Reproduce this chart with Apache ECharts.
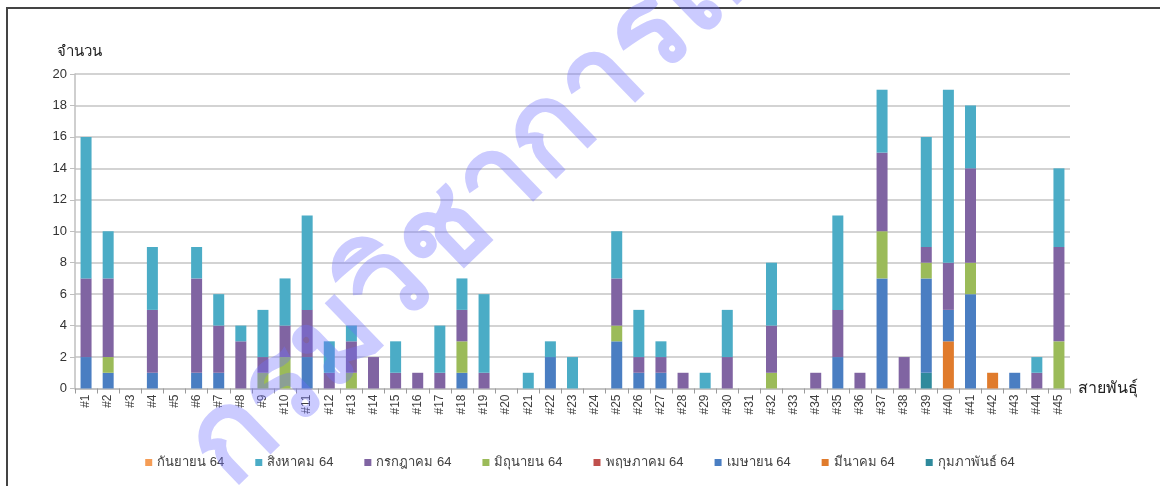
<!DOCTYPE html>
<html>
<head>
<meta charset="utf-8">
<script src="https://cdn.jsdelivr.net/npm/echarts@6/dist/echarts.min.js"></script>
<style>
  html, body { margin: 0; padding: 0; background: #fff; }
  #chart { width: 1160px; height: 486px; }
</style>
</head>
<body>
<div id="chart"></div>
<script>
// Lineage labels #1 .. #45
const categories = Array.from({ length: 45 }, (_, i) => '#' + (i + 1));

// Monthly counts per lineage (stacked bottom to top in this order)
const feb64 = [0,0,0,0,0, 0,0,0,0,0, 0,0,0,0,0, 0,0,0,0,0, 0,0,0,0,0, 0,0,0,0,0, 0,0,0,0,0, 0,0,0,1,0, 0,0,0,0,0];
const mar64 = [0,0,0,0,0, 0,0,0,0,0, 0,0,0,0,0, 0,0,0,0,0, 0,0,0,0,0, 0,0,0,0,0, 0,0,0,0,0, 0,0,0,0,3, 0,1,0,0,0];
const apr64 = [2,1,0,1,0, 1,1,0,0,0, 2,0,0,0,0, 0,0,1,0,0, 0,2,0,0,3, 1,1,0,0,0, 0,0,0,0,2, 0,7,0,6,2, 6,0,1,0,0];
const may64 = [0,0,0,0,0, 0,0,0,0,0, 0,0,0,0,0, 0,0,0,0,0, 0,0,0,0,0, 0,0,0,0,0, 0,0,0,0,0, 0,0,0,0,0, 0,0,0,0,0];
const jun64 = [0,1,0,0,0, 0,0,0,1,2, 0,0,1,0,0, 0,0,2,0,0, 0,0,0,0,1, 0,0,0,0,0, 0,1,0,0,0, 0,3,0,1,0, 2,0,0,0,3];
const jul64 = [5,5,0,4,0, 6,3,3,1,2, 3,1,2,2,1, 1,1,2,1,0, 0,0,0,0,3, 1,1,1,0,2, 0,3,0,1,3, 1,5,2,1,3, 6,0,0,1,6];
const aug64 = [9,3,0,4,0, 2,2,1,3,3, 6,2,1,0,2, 0,3,2,5,0, 1,1,2,0,3, 3,1,0,1,3, 0,4,0,0,6, 0,4,0,7,11, 4,0,0,1,5];
const sep64 = [0,0,0,0,0, 0,0,0,0,0, 0,0,0,0,0, 0,0,0,0,0, 0,0,0,0,0, 0,0,0,0,0, 0,0,0,0,0, 0,0,0,0,0, 0,0,0,0,0];

const yTicks = { min: 0, max: 20, step: 2 };

const seriesDefs = [
  { name: 'กุมภาพันธ์ 64', data: feb64, color: '#2f8a9c' },
  { name: 'มีนาคม 64',   data: mar64, color: '#e07b2c' },
  { name: 'เมษายน 64',   data: apr64, color: '#4a7ec2' },
  { name: 'พฤษภาคม 64',  data: may64, color: '#c0504d' },
  { name: 'มิถุนายน 64',  data: jun64, color: '#9bbb59' },
  { name: 'กรกฎาคม 64',  data: jul64, color: '#8064a2' },
  { name: 'สิงหาคม 64',   data: aug64, color: '#4bacc6' },
  { name: 'กันยายน 64',   data: sep64, color: '#f59d56' }
];

const FONT = '"Liberation Sans", "DejaVu Sans", sans-serif';

const chart = echarts.init(document.getElementById('chart'), null, { renderer: 'canvas' });

chart.setOption({
  backgroundColor: '#ffffff',
  animation: false,
  textStyle: { fontFamily: FONT },
  color: seriesDefs.map(s => s.color),
  grid: { left: 75, right: 90, top: 74, bottom: 97.5, containLabel: false },
  legend: {
    data: seriesDefs.map(s => s.name).reverse(),
    bottom: 12,
    left: 'center',
    itemWidth: 7,
    itemHeight: 7,
    itemGap: 31,
    icon: 'rect',
    textStyle: { fontSize: 13, color: '#404040', fontFamily: FONT }
  },
  xAxis: {
    type: 'category',
    data: categories,
    name: 'สายพันธุ์',
    nameLocation: 'end',
    nameGap: 8,
    nameTextStyle: { fontSize: 16, color: '#222', verticalAlign: 'middle', fontFamily: FONT },
    axisLine: { show: true, lineStyle: { color: '#bfbfbf', width: 1.5 } },
    axisTick: { show: true, alignWithLabel: false, length: 5, lineStyle: { color: '#9a9a9a' } },
    axisLabel: { rotate: 90, fontSize: 12, color: '#404040', margin: 6, interval: 0, fontFamily: FONT }
  },
  yAxis: {
    type: 'value',
    min: yTicks.min,
    max: yTicks.max,
    interval: yTicks.step,
    name: 'จำนวน',
    nameLocation: 'end',
    nameGap: 15,
    nameTextStyle: { fontSize: 15, color: '#222', align: 'left', padding: [0, 0, 0, -18], fontFamily: FONT },
    axisLine: { show: true, lineStyle: { color: '#bfbfbf', width: 1.5 } },
    axisTick: { show: true, length: 5, lineStyle: { color: '#bfbfbf' } },
    axisLabel: { fontSize: 13, color: '#333', margin: 8, fontFamily: FONT },
    splitLine: { show: true, lineStyle: { color: '#c4c4c4', width: 1.5 } }
  },
  series: seriesDefs.map(s => ({
    name: s.name,
    type: 'bar',
    stack: 'total',
    barWidth: 11,
    data: s.data,
    itemStyle: { color: s.color }
  })),
  graphic: [
    {
      type: 'rect',
      shape: { x: 7, y: 8, width: 1200, height: 600 },
      style: { fill: 'none', stroke: '#444', lineWidth: 2 },
      silent: true
    },
    {
      type: 'text',
      x: 250,
      y: 510,
      rotation: 44 * Math.PI / 180,
      silent: true,
      z: 100,
      style: {
        text: 'กรมวิชาการเกษตร',
        fontSize: 122,
        fontWeight: 'bold',
        fontFamily: FONT,
        fill: 'rgba(110, 110, 255, 0.36)',
        textVerticalAlign: 'bottom'
      }
    }
  ]
});
</script>
</body>
</html>
